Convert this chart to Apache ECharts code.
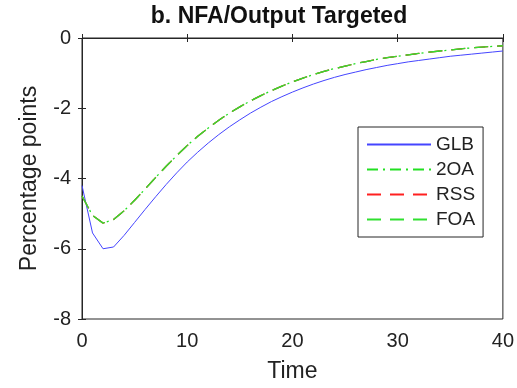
<!DOCTYPE html>
<html><head><meta charset="utf-8">
<script src="https://cdn.jsdelivr.net/npm/echarts@6/dist/echarts.min.js"></script>
<style>html,body{margin:0;padding:0;background:#fff}#c{width:517px;height:388px}</style>
</head><body><div id="c"></div>
<script>
var time = [0,1,2,3,4,5,6,7,8,9,10,11,12,13,14,15,16,17,18,19,20,21,22,23,24,25,26,27,28,29,30,31,32,33,34,35,36,37,38,39,40];
var glb = [-4.2,-5.55,-6.0,-5.95,-5.62,-5.25,-4.88,-4.52,-4.17,-3.84,-3.53,-3.25,-2.99,-2.75,-2.53,-2.33,-2.14,-1.97,-1.81,-1.67,-1.54,-1.42,-1.31,-1.21,-1.12,-1.04,-0.97,-0.9,-0.84,-0.78,-0.73,-0.68,-0.64,-0.6,-0.56,-0.52,-0.49,-0.46,-0.43,-0.4,-0.37];
var oa2 = [-4.5,-5.05,-5.27,-5.17,-4.92,-4.62,-4.3,-3.97,-3.65,-3.35,-3.06,-2.8,-2.56,-2.34,-2.14,-1.96,-1.79,-1.64,-1.5,-1.37,-1.25,-1.14,-1.04,-0.95,-0.87,-0.8,-0.73,-0.67,-0.61,-0.56,-0.52,-0.48,-0.44,-0.4,-0.37,-0.34,-0.31,-0.28,-0.26,-0.24,-0.22];
var rss = oa2.slice();
var foa = oa2.slice();
var seriesNames = ['GLB','2OA','RSS','FOA'];
var xTicks = [0,10,20,30,40];
var yTicks = [0,-2,-4,-6,-8];

function pairs(v){ return time.map(function(t,i){ return [t, v[i]]; }); }
var font = 'Liberation Sans, Arial, Helvetica, sans-serif';
var chart = echarts.init(document.getElementById('c'));
function axisCommon(){ return {
  axisLine:{show:true,lineStyle:{color:'#262626',width:1}},
  axisTick:{show:true,inside:true,length:4,lineStyle:{color:'#262626'}},
  splitLine:{show:false}
};}
chart.setOption({
  animation:false,
  backgroundColor:'#fff',
  title:{text:'b. NFA/Output Targeted',left:274,top:0,textAlign:'center',
    textStyle:{fontFamily:font,fontSize:23,fontWeight:'bold',color:'#111'}},
  grid:{left:82,right:13,top:38,bottom:64,show:true,borderColor:'#262626',borderWidth:1,backgroundColor:'#fff'},
  xAxis:[
    Object.assign({type:'value',min:xTicks[0],max:xTicks[xTicks.length-1],interval:10,
      name:'Time',nameLocation:'middle',nameGap:41,
      nameTextStyle:{fontFamily:font,fontSize:23,color:'#222'},
      axisLabel:{fontFamily:font,fontSize:20,color:'#222',margin:12}},axisCommon()),
    Object.assign({type:'value',position:'top',min:0,max:40,interval:10,axisLabel:{show:false}},axisCommon())
  ],
  yAxis:[
    Object.assign({type:'value',min:yTicks[4],max:yTicks[0],interval:2,
      name:'Percentage points',nameLocation:'middle',nameGap:41,nameRotate:90,
      nameTextStyle:{fontFamily:font,fontSize:23,color:'#222'},
      axisLabel:{fontFamily:font,fontSize:20,color:'#222',margin:11}},axisCommon()),
    Object.assign({type:'value',position:'right',min:-8,max:0,interval:2,axisLabel:{show:false}},axisCommon())
  ],
  legend:{show:true,orient:'vertical',left:358,top:127,padding:[8,8,8,8],
    backgroundColor:'#fff',borderColor:'#262626',borderWidth:1,
    itemWidth:64,itemHeight:14,itemGap:6,
    itemStyle:{opacity:0,borderWidth:0},
    textStyle:{fontFamily:font,fontSize:19,color:'#222'},
    data:seriesNames},
  series:[
    {name:seriesNames[0],type:'line',data:pairs(glb),showSymbol:false,symbol:'none',
      lineStyle:{color:'#4545ff',width:1,type:'solid'},itemStyle:{color:'#4545ff'}},
    {name:seriesNames[1],type:'line',data:pairs(oa2),showSymbol:false,symbol:'none',
      lineStyle:{color:'#22e022',width:1.3,type:[11,5,2,5]},itemStyle:{color:'#22e022'}},
    {name:seriesNames[2],type:'line',data:pairs(rss),showSymbol:false,symbol:'none',
      lineStyle:{color:'#ff2020',width:1.3,type:[14,9]},itemStyle:{color:'#ff2020'}},
    {name:seriesNames[3],type:'line',data:pairs(foa),showSymbol:false,symbol:'none',
      lineStyle:{color:'#30e030',width:1.3,type:[14,9]},itemStyle:{color:'#30e030'}}
  ]
});
</script></body></html>
